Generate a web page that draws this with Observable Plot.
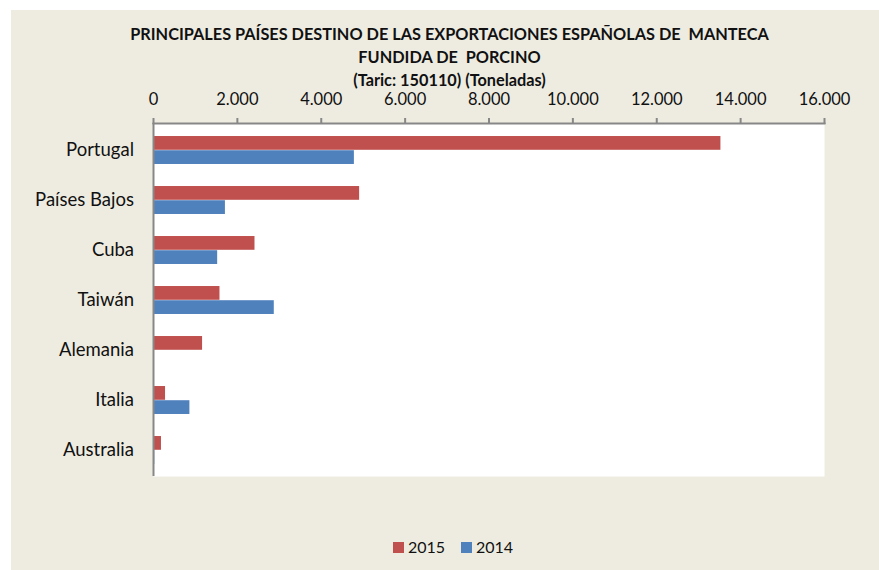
<!DOCTYPE html>
<html>
<head>
<meta charset="utf-8">
<script src="https://cdn.jsdelivr.net/npm/d3@7"></script>
<script src="https://cdn.jsdelivr.net/npm/@observablehq/plot@0.6"></script>
<style>
  html, body { margin: 0; padding: 0; background: #ffffff; }
  #wrap { position: relative; width: 879px; height: 570px; overflow: hidden; font-family: Lato, "Open Sans", sans-serif; color: #111; }
  #bg { position: absolute; left: 11px; top: 10px; right: 0; bottom: 0; background: #EEECE1; }
  #chart { position: absolute; left: 0; top: 0; }
  #title { position: absolute; left: 0; width: 899px; top: 22px; text-align: center; font-weight: bold; font-size: 16.3px; line-height: 23px; white-space: pre; z-index: 2; }
  #legend { position: absolute; top: 537px; left: 0; width: 879px; height: 20px; font-size: 16px; line-height: 20px; z-index: 2; }
  .sw { position: absolute; top: 5px; width: 11px; height: 11px; }
  .lt { position: absolute; top: 0; }
</style>
</head>
<body>
<div id="wrap">
  <div id="bg"></div>
  <div id="chart"></div>
  <div id="title"></div>
  <div id="legend"></div>
</div>
<script>
// ---- data ----
const titleLines = [
  "PRINCIPALES PAÍSES DESTINO DE LAS EXPORTACIONES ESPAÑOLAS DE  MANTECA",
  "FUNDIDA DE  PORCINO",
  "(Taric: 150110) (Toneladas)"
];
const countries = ["Portugal", "Países Bajos", "Cuba", "Taiwán", "Alemania", "Italia", "Australia"];
const years = ["2015", "2014"];
const values2015 = [13530, 4915, 2420, 1585, 1170, 287, 190];
const values2014 = [4790, 1715, 1530, 2880, 0, 868, 30];
const xTicks = [0, 2000, 4000, 6000, 8000, 10000, 12000, 14000, 16000];
const colors = ["#C0504D", "#4F81BD"];

// ---- build ----
const W = 879, H = 570;
const mTop = 123, mBottom = 94, mLeft = 153, mRight = 55;
const band = (H - mTop - mBottom) / countries.length;
const barH = 14.2;
const outer = (band - 2 * barH) / 2;

const rows2015 = countries.map((c, i) => ({country: c, year: years[0], value: values2015[i]}));
const rows2014 = countries.map((c, i) => ({country: c, year: years[1], value: values2014[i]}));

const es = d3.formatLocale({decimal: ",", thousands: ".", grouping: [3], currency: ["", " €"]});
const fmt = es.format(",");

const plot = Plot.plot({
  width: W, height: H,
  marginTop: mTop, marginBottom: mBottom, marginLeft: mLeft, marginRight: mRight,
  style: {background: "transparent", fontFamily: "Lato, 'Open Sans', sans-serif", color: "#111"},
  x: {domain: [xTicks[0], xTicks[xTicks.length - 1]]},
  y: {domain: countries, padding: 0},
  marks: [
    Plot.frame({fill: "white", stroke: "none"}),
    Plot.barX(rows2015, {x: "value", y: "country", fill: colors[0], insetTop: outer, insetBottom: band - outer - barH}),
    Plot.barX(rows2014, {x: "value", y: "country", fill: colors[1], insetTop: outer + barH, insetBottom: outer}),
    Plot.ruleX([0], {stroke: "#878787", strokeWidth: 2}),
    Plot.frame({anchor: "top", stroke: "#878787", strokeWidth: 2}),
    Plot.axisX({anchor: "top", ticks: xTicks, tickSize: 6, tickPadding: 13, tickFormat: fmt,
      stroke: "#878787", strokeWidth: 2, fill: "#111", fontSize: 16.5, label: null}),
    Plot.axisY({anchor: "left", tickSize: 0, tickPadding: 19.5, fill: "#111", fontSize: 18.5, label: null})
  ]
});
document.getElementById("chart").appendChild(plot);

// title
const t = document.getElementById("title");
titleLines.forEach(s => { const d = document.createElement("div"); d.textContent = s; t.appendChild(d); });

// legend
const lg = document.getElementById("legend");
const legendPos = [393, 461];
years.forEach((y, i) => {
  const sw = document.createElement("div");
  sw.className = "sw"; sw.style.left = legendPos[i] + "px"; sw.style.background = colors[i];
  const tx = document.createElement("div");
  tx.className = "lt"; tx.style.left = (legendPos[i] + 15) + "px"; tx.textContent = y;
  lg.appendChild(sw); lg.appendChild(tx);
});
</script>
</body>
</html>
